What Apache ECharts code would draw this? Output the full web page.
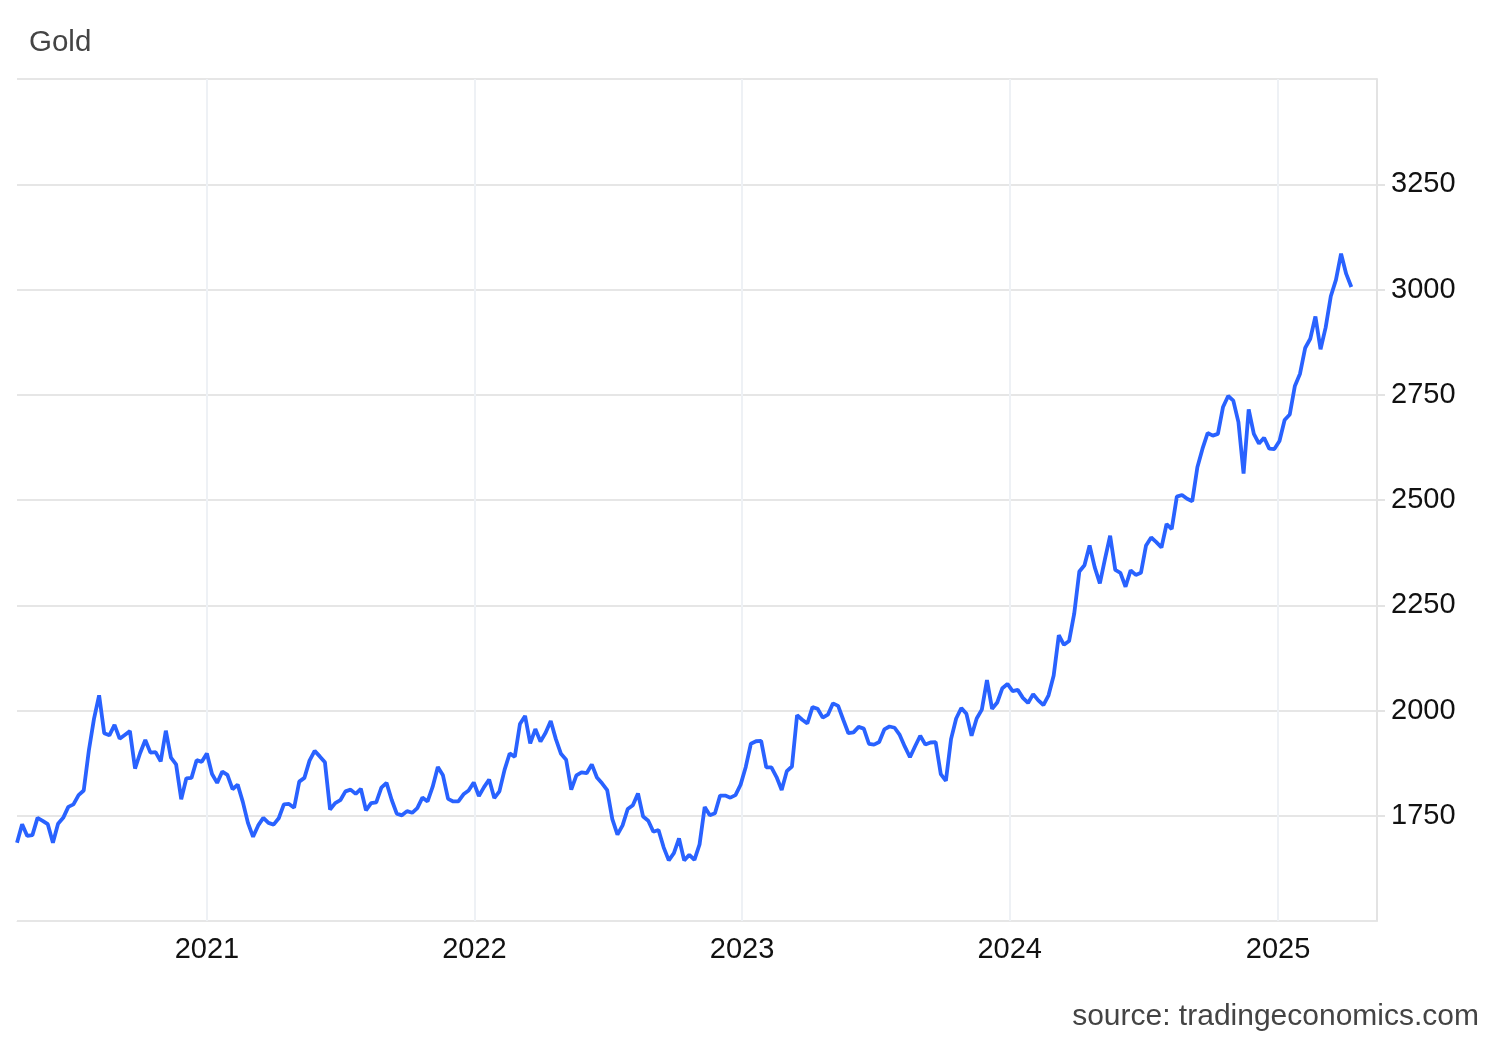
<!DOCTYPE html>
<html><head><meta charset="utf-8">
<script src="https://cdn.jsdelivr.net/npm/echarts@6/dist/echarts.min.js"></script>
<style>html,body{margin:0;padding:0;background:#fff}#c{width:1500px;height:1040px}</style>
</head><body><div id="c"></div>
<script>
// Weekly gold closes (USD/oz), first week 2020-04-17, one value per week
const firstWeek = [2020, 3, 17];
const goldValues = [
 1686,1730,1702,1704,1745,1738,1730,1686,1731,1745,1771,1777,1799,1810,1905,1980,2036,1946,1941,1966,
 1933,1942,1951,1862,1899,1930,1900,1901,1879,1952,1888,1872,1789,1839,1840,1882,1878,1898,1849,1828,
 1855,1847,1813,1824,1783,1733,1700,1727,1745,1733,1729,1744,1777,1778,1769,1831,1840,1881,1904,1891,
 1877,1765,1780,1787,1808,1812,1802,1814,1763,1780,1782,1817,1828,1788,1755,1751,1761,1757,1768,1793,
 1784,1819,1866,1846,1790,1784,1784,1801,1810,1829,1797,1818,1836,1792,1808,1859,1898,1890,1968,1987,
 1922,1956,1926,1947,1975,1932,1897,1883,1812,1846,1853,1851,1872,1841,1827,1811,1742,1705,1727,1766,
 1775,1803,1748,1738,1712,1716,1675,1644,1661,1696,1644,1657,1645,1682,1771,1751,1756,1798,1798,1793,
 1799,1824,1866,1921,1927,1928,1865,1865,1842,1811,1856,1867,1989,1978,1969,2008,2004,1983,1990,2017,
 2011,1978,1946,1948,1961,1957,1921,1919,1925,1955,1962,1959,1942,1914,1889,1915,1940,1919,1924,1925,
 1849,1833,1932,1981,2006,1992,1940,1981,2002,2072,2004,2019,2053,2063,2046,2049,2030,2018,2039,2024,
 2013,2036,2083,2179,2156,2165,2230,2330,2345,2392,2340,2302,2360,2415,2334,2327,2294,2333,2322,2327,
 2392,2411,2400,2387,2443,2431,2508,2512,2503,2497,2578,2622,2659,2653,2657,2721,2747,2736,2685,2563,
 2715,2657,2634,2648,2622,2621,2640,2690,2703,2771,2800,2861,2883,2936,2858,2910,2984,3023,3085,3037,
 3006
];
const xRange = ['2020-04-17', '2025-05-16'];
const yRange = [1500, 3500];
const yStep = 250;
const titleText = 'Gold';
const sourceText = 'source: tradingeconomics.com';

const seriesData = goldValues.map((v, i) => {
  const d = new Date(firstWeek[0], firstWeek[1], firstWeek[2] + 7 * i);
  return [d.getTime(), v];
});

const chart = echarts.init(document.getElementById('c'), null, {renderer: 'canvas'});
const FONT = 'Liberation Sans, Arial, sans-serif';
chart.setOption({
  animation: false,
  backgroundColor: '#ffffff',
  title: {
    text: titleText, left: 24, top: 23,
    textStyle: {fontFamily: FONT, fontSize: 29.5, fontWeight: 'normal', color: '#444444'}
  },
  graphic: [{
    type: 'text', right: 21, top: 1002,
    style: {text: sourceText, font: '30px ' + FONT, fill: '#444444'}
  }],
  grid: {left: 17, right: 123, top: 79, bottom: 119, containLabel: false},
  xAxis: {
    type: 'time',
    min: new Date(xRange[0] + 'T00:00:00').getTime(),
    max: new Date(xRange[1] + 'T00:00:00').getTime(),
    splitNumber: 5,
    minInterval: 360 * 24 * 3600 * 1000,
    axisLine: {show: true, lineStyle: {color: '#e6e6e6', width: 1}},
    axisTick: {show: false},
    axisLabel: {formatter: '{yyyy}', fontFamily: FONT, fontSize: 29, color: '#111111', margin: 14,
      showMinLabel: false, showMaxLabel: false},
    splitLine: {show: true, showMinLine: false, showMaxLine: false, lineStyle: {color: '#eef1f5', width: 2}}
  },
  yAxis: {
    type: 'value', position: 'right',
    min: yRange[0], max: yRange[1], interval: yStep,
    axisLine: {show: true, lineStyle: {color: '#e3e3e3', width: 2}},
    axisTick: {show: true, inside: false, length: 8, lineStyle: {color: '#e3e3e3', width: 2}},
    axisLabel: {fontFamily: FONT, fontSize: 29, color: '#111111', margin: 14,
      showMinLabel: false, showMaxLabel: false, formatter: (v) => String(v)},
    splitLine: {show: true, lineStyle: {color: '#e6e6e6', width: 2}}
  },
  series: [{
    type: 'line', data: seriesData, showSymbol: false, symbol: 'none',
    lineStyle: {color: '#2962ff', width: 3.8}, itemStyle: {color: '#2962ff'},
    clip: true
  }]
});
</script>
</body></html>
